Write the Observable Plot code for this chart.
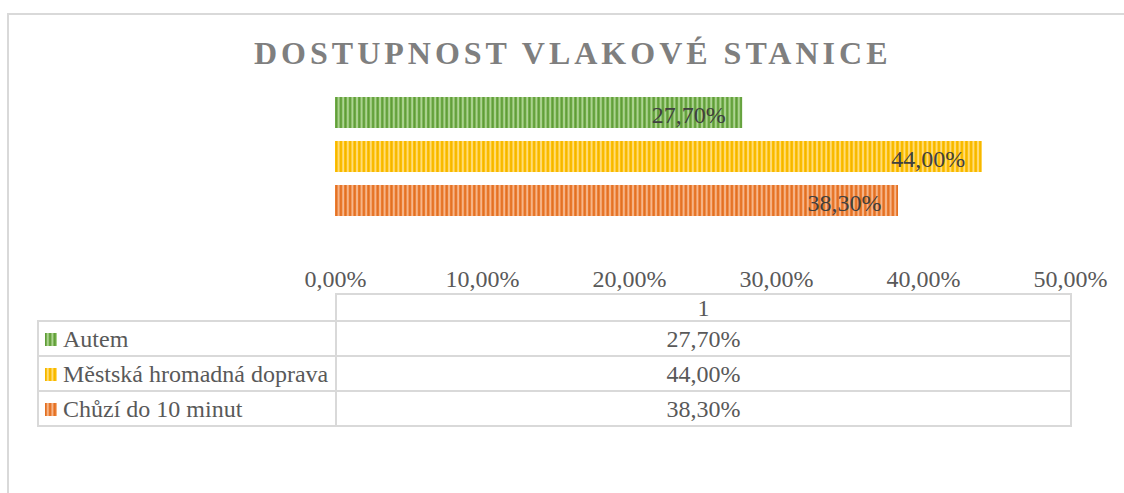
<!DOCTYPE html>
<html>
<head>
<meta charset="utf-8">
<script src="https://cdn.jsdelivr.net/npm/d3@7"></script>
<script src="https://cdn.jsdelivr.net/npm/@observablehq/plot@0.6"></script>
<style>
  html, body { margin: 0; padding: 0; background: #fff; overflow: hidden; }
  #wrap { position: relative; width: 1124px; height: 493px; overflow: hidden; font-family: "Liberation Serif", "Times New Roman", serif; }
  #frame { position: absolute; left: 7px; top: 13px; width: 1300px; height: 700px; border: 2px solid #d9d9d9; box-sizing: border-box; }
  #title { position: absolute; left: 254px; top: 37px; font-size: 32px; line-height: 32px; font-weight: bold; letter-spacing: 4px; color: #7f7f7f; white-space: nowrap; }
  #plot { position: absolute; left: 0; top: 0; }
  #tbl { position: absolute; left: 37px; top: 293px; border-collapse: collapse; font-size: 24px; color: #595959; }
  #tbl td { border: 2px solid #d9d9d9; padding: 0; white-space: nowrap; }
  #tbl td.name { width: 290px; padding-left: 6px; text-align: left; }
  #tbl td.val { width: 733px; text-align: center; }
  #tbl td.blank { border-top: none; border-left: none; }
  #tbl tr.head td { height: 25px; line-height: 24px; }
  #tbl tr.row td { height: 33px; line-height: 30px; }
  .key { display: inline-block; width: 12px; height: 13px; margin-right: 6px; vertical-align: 1px; }
</style>
</head>
<body>
<div id="wrap">
  <div id="frame"></div>
  <div id="title">DOSTUPNOST VLAKOVÉ STANICE</div>
  <div id="plot"></div>
  <table id="tbl"></table>
</div>
<script>
const categories = ["Autem", "Městská hromadná doprava", "Chůzí do 10 minut"];
const values = [27.7, 44.0, 38.3];
const seriesName = "1";
const xTicks = [0, 10, 20, 30, 40, 50];
const baseColors = ["#70AD47", "#FFC000", "#ED7D31"];
const lightColors = ["#B5D99C", "#FFE08A", "#F7BE97"];
const darkColors = ["#5E9A38", "#F2B400", "#E06F22"];

const fmt = v => v.toFixed(2).replace(".", ",") + "%";
const data = categories.map((c, i) => ({name: c, value: values[i]}));
const patternIds = categories.map((c, i) => "pat" + i);

const chart = Plot.plot({
  width: 1124,
  height: 300,
  marginLeft: 335,
  marginRight: 54,
  marginTop: 97,
  marginBottom: 84,
  style: {fontFamily: "Liberation Serif, Times New Roman, serif", background: "transparent", overflow: "visible"},
  x: {domain: [0, 50], label: null},
  y: {domain: categories, paddingInner: 0.3, paddingOuter: 0, axis: null},
  color: {domain: categories, range: patternIds.map(id => `url(#${id})`)},
  marks: [
    Plot.barX(data, {x: "value", y: "name", fill: "name"}),
    Plot.text(data, {x: "value", y: "name", text: d => fmt(d.value), textAnchor: "end", dx: -17, dy: 2, fontSize: 24, fill: "#404040"}),
    Plot.axisX({ticks: xTicks, tickFormat: fmt, tickSize: 0, tickPadding: 53, fontSize: 24, color: "#595959", anchor: "bottom", label: null})
  ]
});

// Striped patterns
const ns = "http://www.w3.org/2000/svg";
const defs = document.createElementNS(ns, "defs");
patternIds.forEach((id, i) => {
  const p = document.createElementNS(ns, "pattern");
  p.setAttribute("id", id);
  p.setAttribute("patternUnits", "userSpaceOnUse");
  p.setAttribute("width", "4.6");
  p.setAttribute("height", "200");
  const parts = [
    [0, 4.6, baseColors[i]],
    [0, 1.0, darkColors[i]],
    [2.0, 1.6, lightColors[i]]
  ];
  parts.forEach(([x, w, c]) => {
    const r = document.createElementNS(ns, "rect");
    r.setAttribute("x", x); r.setAttribute("y", 0);
    r.setAttribute("width", w); r.setAttribute("height", 200);
    r.setAttribute("fill", c);
    p.appendChild(r);
  });
  defs.appendChild(p);
});
chart.insertBefore(defs, chart.firstChild);
document.getElementById("plot").appendChild(chart);

// Data table below the chart
const tbl = document.getElementById("tbl");
let html = `<tr class="head"><td class="name blank"></td><td class="val">${seriesName}</td></tr>`;
categories.forEach((c, i) => {
  html += `<tr class="row"><td class="name"><svg class="key" width="12" height="13"><rect width="12" height="13" fill="url(#${patternIds[i]})"/></svg>${c}</td><td class="val">${fmt(values[i])}</td></tr>`;
});
tbl.innerHTML = html;
</script>
</body>
</html>
